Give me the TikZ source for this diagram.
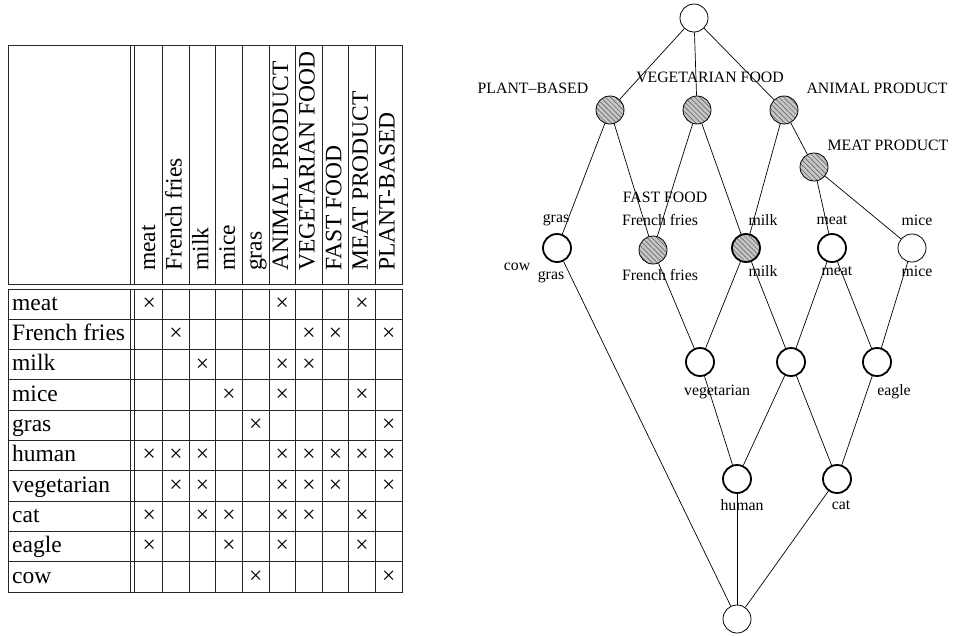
\documentclass[tikz,border=0pt]{standalone}
\usepackage{fontspec}
\setmainfont{Liberation Serif}
\usetikzlibrary{positioning,patterns.meta}

\begin{document}
\begin{tikzpicture}[x=1pt,y=-1pt,
  concept/.style={circle,draw,line width=0.8pt,minimum size=28pt,inner sep=0pt,fill=white},
  object/.style={concept,line width=1.8pt},
  hatched/.style={preaction={fill=gray!45},
    pattern={Lines[angle=-45,distance=3.5pt,line width=0.5pt]},pattern color=gray!65!black},
  lbl/.style={font=\fontsize{15.8}{18}\selectfont,inner sep=0pt},
  cell/.style={font=\fontsize{23.5}{28}\selectfont,inner sep=0pt},
  tabline/.style={line width=0.9pt,draw=black!85},
  edge/.style={line width=0.7pt}]
\useasboundingbox (0,0) rectangle (955,635);

% context table
\draw[tabline] (8,45) rectangle (402,284);
\draw[tabline] (8,289) rectangle (402,592);
\foreach \x in {130.5,134.5}
  \draw[tabline] (\x,45) -- (\x,284) (\x,289) -- (\x,592);
\foreach \i in {1,...,9}
  \draw[tabline] ({136+26.6*\i},45) -- ({136+26.6*\i},284)
                 ({136+26.6*\i},289) -- ({136+26.6*\i},592);
\foreach \r in {1,...,9}
  \draw[tabline] (8,{289+30.3*\r}) -- (402,{289+30.3*\r});

\foreach \t [count=\i] in {meat,French fries,milk,mice,gras,ANIMAL PRODUCT,
    VEGETARIAN FOOD,FAST FOOD,MEAT PRODUCT,PLANT-BASED}
  \node[cell,rotate=90,anchor=base west] (h\i) at ({128.5+26.6*\i},271) {\t};

\foreach \t/\c [count=\r] in {meat/{1,6,9},French fries/{2,7,8,10},milk/{3,6,7},
    mice/{4,6,9},gras/{5,10},human/{1,2,3,6,7,8,9,10},vegetarian/{2,3,6,7,8,10},
    cat/{1,3,4,6,7,9},eagle/{1,4,6,9},cow/{5,10}} {
  \node[cell,anchor=base west] (r\r) at (12,{280+30.3*\r}) {\t};
  \foreach \i in \c
    \node[cell] (x\r-\i) at ({122.7+26.6*\i},{273.85+30.3*\r}) {×};
}

% concept lattice
\node[concept] (top) at (694,18) {};
\node[concept,hatched] (pb) at (610,110) {};
\node[concept,hatched] (vf) at (697,110) {};
\node[concept,hatched] (ap) at (784,110) {};
\node[concept,hatched] (mp) at (814,167) {};
\node[object] (gras) at (557,248) {};
\node[concept,hatched] (ff) at (653,250) {};
\node[object,hatched] (milk) at (746,248) {};
\node[object] (meat) at (832,248) {};
\node[concept] (mice) at (912,248) {};
\node[object] (veg) at (700,362) {};
\node[object] (mid) at (791,362) {};
\node[object] (eagle) at (877,362) {};
\node[object] (human) at (737,479) {};
\node[object] (cat) at (837,479) {};
\node[concept] (bot) at (737,619) {};

\foreach \a/\b in {top/pb,top/vf,top/ap,pb/gras,pb/ff,vf/ff,vf/milk,ap/milk,ap/mp,
    mp/meat,mp/mice,gras/bot,ff/veg,milk/veg,milk/mid,meat/mid,meat/eagle,
    mice/eagle,veg/human,mid/human,mid/cat,eagle/cat,human/bot,cat/bot}
  \draw[edge] (\a) -- (\b);

% labels
\node[lbl] (lpb) at (533,88) {PLANT–BASED};
\node[lbl] (lvf) at (710,77) {VEGETARIAN FOOD};
\node[lbl] (lap) at (877,88) {ANIMAL PRODUCT};
\node[lbl] (lmp) at (888,145) {MEAT PRODUCT};
\node[lbl] (lff) at (665,197) {FAST FOOD};
\node[lbl] (lff1) at (660,220) {French fries};
\node[lbl] (lff2) at (660,275) {French fries};
\node[lbl] (lgras1) at (556,220) {gras};
\node[lbl] (lgras2) at (551,277) {gras};
\node[lbl] (lcow) at (517,267) {cow};
\node[lbl] (lmilk1) at (763,220) {milk};
\node[lbl] (lmilk2) at (763,271) {milk};
\node[lbl] (lmeat1) at (832,220) {meat};
\node[lbl] (lmeat2) at (837,271) {meat};
\node[lbl] (lmice1) at (917,220) {mice};
\node[lbl] (lmice2) at (917,271) {mice};
\node[lbl] (lveg) at (717,392) {vegetarian};
\node[lbl] (leagle) at (894,392) {eagle};
\node[lbl] (lhuman) at (742,505) {human};
\node[lbl] (lcat) at (841,505) {cat};
\end{tikzpicture}
\end{document}
